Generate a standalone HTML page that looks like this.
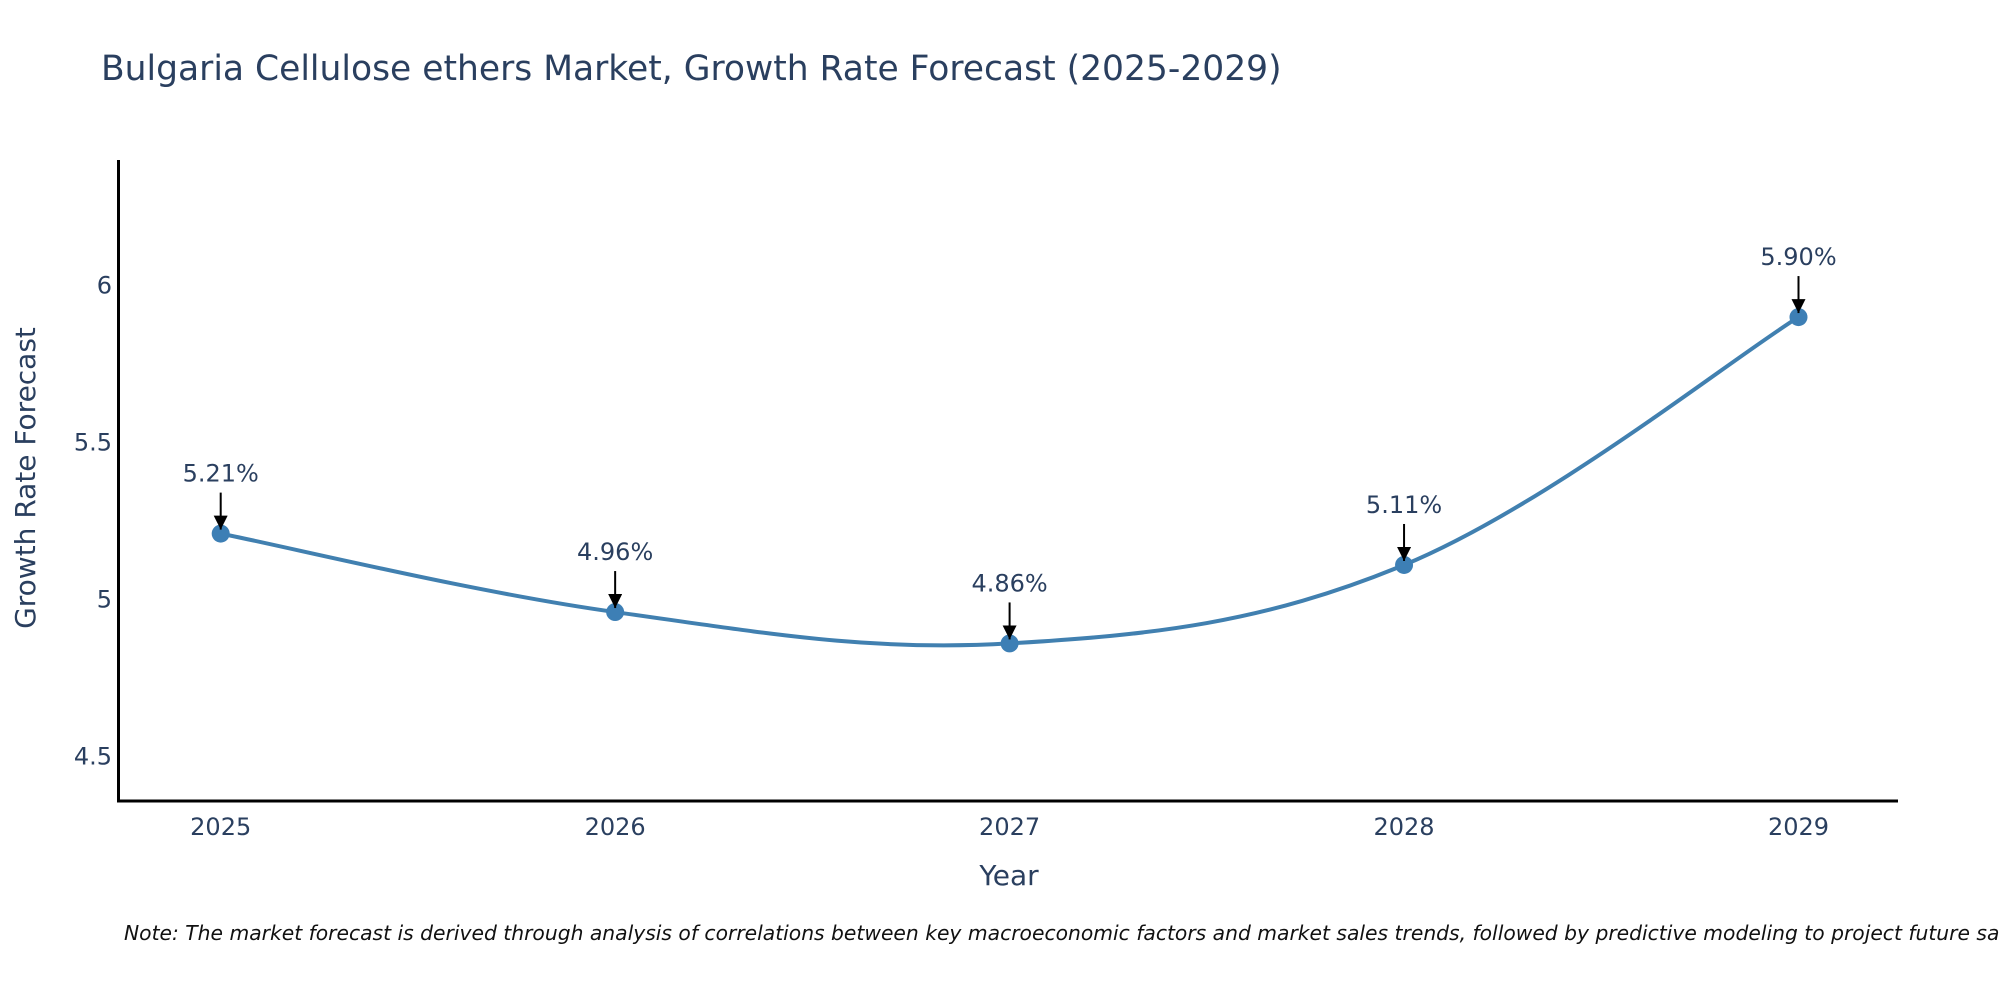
<!DOCTYPE html>
<html><head><meta charset="utf-8"><style>
html,body{margin:0;padding:0;background:#fff;width:2000px;height:1000px;overflow:hidden}
svg text{font-family:"DejaVu Sans","Liberation Sans",sans-serif;fill:#2a3f5f}
</style></head><body>
<svg id="chart" width="2000" height="1000" viewBox="0 0 2000 1000" xmlns="http://www.w3.org/2000/svg">
<defs><marker id="ah" viewBox="0 0 10 10" refX="10" refY="5" markerWidth="14" markerHeight="14" markerUnits="userSpaceOnUse" orient="auto"><path d="M0,0 L10,5 L0,10 z" fill="#000"/></marker></defs>
<text x="101" y="80" font-size="34.5">Bulgaria Cellulose ethers Market, Growth Rate Forecast (2025-2029)</text>
<g id="yticks"></g><g id="xticks"></g>
<line x1="118.5" y1="160" x2="118.5" y2="802" stroke="#000" stroke-width="3"/>
<line x1="117" y1="801" x2="1898" y2="801" stroke="#000" stroke-width="3"/>
<path id="series" fill="none" stroke="#4180b0" stroke-width="4"/>
<g id="points"></g><g id="annots"></g>
<text transform="translate(35,478) rotate(-90)" text-anchor="middle" font-size="28">Growth Rate Forecast</text>
<text x="1009" y="885" text-anchor="middle" font-size="28">Year</text>
<text x="124" y="940" font-size="20.3" font-style="italic" style="fill:#111">Note: The market forecast is derived through analysis of correlations between key macroeconomic factors and market sales trends, followed by predictive modeling to project future sales.</text>
</svg>
<script>
const years = [2025, 2026, 2027, 2028, 2029];
const values = [5.21, 4.96, 4.86, 5.11, 5.90];
const labels = ["5.21%", "4.96%", "4.86%", "5.11%", "5.90%"];
const yTicks = [4.5, 5, 5.5, 6];
const yTickLabels = ["4.5", "5", "5.5", "6"];

const NS = "http://www.w3.org/2000/svg";
const xScale = v => 220.7 + (v - 2025) * (1798.5 - 220.7) / 4;
const yScale = v => 599.5 - (v - 5) * 313.8;
function mk(tag, attrs, parent, txt) {
  const e = document.createElementNS(NS, tag);
  for (const k in attrs) e.setAttribute(k, attrs[k]);
  if (txt !== undefined) e.textContent = txt;
  parent.appendChild(e);
  return e;
}
const yg = document.getElementById('yticks');
yTicks.forEach((t, i) => {
  const e = mk('text', {x: 112, y: yScale(t) + 8, 'text-anchor': 'end', 'font-size': 24}, yg, yTickLabels[i]);
  
  
});
const xg = document.getElementById('xticks');
years.forEach(y => {
  const e = mk('text', {x: xScale(y), y: 835, 'text-anchor': 'middle', 'font-size': 24}, xg, String(y));
  
  
});
const pts = years.map((y, i) => [xScale(y), yScale(values[i])]);
let d = `M${pts[0][0]},${pts[0][1]}`;
const s = 0.18;
for (let i = 0; i < pts.length - 1; i++) {
  const p0 = pts[Math.max(0, i - 1)], p1 = pts[i], p2 = pts[i + 1], p3 = pts[Math.min(pts.length - 1, i + 2)];
  const c1 = [p1[0] + (p2[0] - p0[0]) * s, p1[1] + (p2[1] - p0[1]) * s];
  const c2 = [p2[0] - (p3[0] - p1[0]) * s, p2[1] - (p3[1] - p1[1]) * s];
  d += ` C${c1[0]},${c1[1]} ${c2[0]},${c2[1]} ${p2[0]},${p2[1]}`;
}
document.getElementById('series').setAttribute('d', d);
const pg = document.getElementById('points'), ag = document.getElementById('annots');
pts.forEach((p, i) => {
  const c = mk('circle', {cx: p[0], cy: p[1], r: 9, fill: '#3d7fb5'}, pg);
  
  
  const l = mk('line', {x1: p[0], y1: p[1] - 41, x2: p[0], y2: p[1] - 4, stroke: '#000', 'stroke-width': 2, 'marker-end': 'url(#ah)'}, ag);
  
  
  const t = mk('text', {x: p[0], y: p[1] - 52, 'text-anchor': 'middle', 'font-size': 24}, ag, labels[i]);
  
  
});
</script>
</body></html>
